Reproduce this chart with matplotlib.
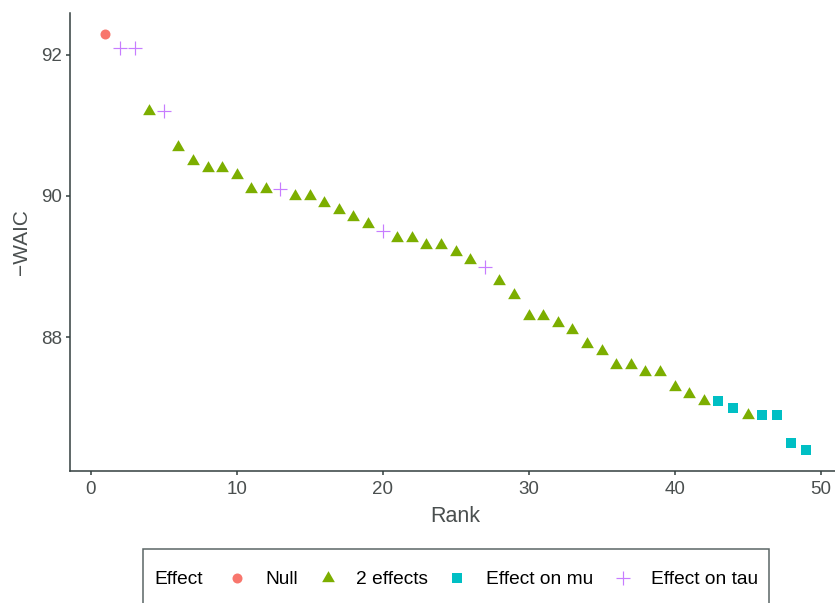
import numpy as np
import matplotlib
matplotlib.use("Agg")
import matplotlib.pyplot as plt
from matplotlib.offsetbox import DrawingArea, HPacker

plt.rcParams['font.family'] = ['Liberation Sans', 'DejaVu Sans']

# Model ranking by -WAIC, split by which effect the model contains
null_rank = [1]
null_waic = [92.3]

two_rank = [4, 6, 7, 8, 9, 10, 11, 12, 14, 15, 16, 17, 18, 19, 21, 22, 23, 24,
            25, 26, 28, 29, 30, 31, 32, 33, 34, 35, 36, 37, 38, 39, 40, 41, 42, 45]
two_waic = [91.2, 90.7, 90.5, 90.4, 90.4, 90.3, 90.1, 90.1, 90.0, 90.0, 89.9,
            89.8, 89.7, 89.6, 89.4, 89.4, 89.3, 89.3, 89.2, 89.1, 88.8, 88.6,
            88.3, 88.3, 88.2, 88.1, 87.9, 87.8, 87.6, 87.6, 87.5, 87.5, 87.3,
            87.2, 87.1, 86.9]

mu_rank = [43, 44, 46, 47, 48, 49]
mu_waic = [87.1, 87.0, 86.9, 86.9, 86.5, 86.4]

tau_rank = [2, 3, 5, 13, 20, 27]
tau_waic = [92.1, 92.1, 91.2, 90.1, 89.5, 89.0]

x_ticks = [0, 10, 20, 30, 40, 50]
y_ticks = [88, 90, 92]

axis_col = '#333f3f'
text_col = '#4a4f4f'

# equilateral triangle like R's pch 17
tri = [(0, 1), (-0.866, -0.5), (0.866, -0.5)]

fig = plt.figure(figsize=(8.35, 6.03), dpi=100)
W, H = 835, 603
left, right, top, bottom = 70.3, 841, 12.7, 471
ax = fig.add_axes([left / W, 1 - bottom / H, (right - left) / W, (bottom - top) / H])

ax.plot(null_rank, null_waic, 'o', color='#F8766D', ms=7.2, mew=0, label='Null')
ax.plot(two_rank, two_waic, linestyle='none', marker=tri, color='#7CAE00',
        ms=10.6, mew=0, label='2 effects')
ax.plot(mu_rank, mu_waic, 's', color='#00BFC4', ms=7.0, mew=0, label='Effect on mu')
ax.plot(tau_rank, tau_waic, '+', color='#C77CFF', ms=9.4, mew=0.85, label='Effect on tau')

ax.set_xlim(-1.4, 51.4)
ax.set_ylim(86.105, 92.595)
ax.set_xticks(x_ticks)
ax.set_yticks(y_ticks)

for s in ['top', 'right']:
    ax.spines[s].set_visible(False)
for s in ['left', 'bottom']:
    ax.spines[s].set_color(axis_col)
    ax.spines[s].set_linewidth(1.1)
ax.tick_params(length=2.7, width=1.1, color=axis_col, labelsize=13.5,
               labelcolor=text_col)
ax.tick_params(axis='x', pad=4.4)
ax.tick_params(axis='y', pad=3.4)

ax.set_xlabel('Rank', fontsize=15.5, color=text_col, va='baseline')
ax.xaxis.set_label_coords(0.5, (H - 521.7 - (H - bottom)) / (bottom - top))
ax.set_ylabel('\u2212WAIC', fontsize=15.0, color=text_col, va='center')
ax.yaxis.set_label_coords((21 - left) / (right - left), 0.5)

leg = fig.legend(loc='upper center', bbox_to_anchor=(456 / W, 1 - 549.3 / H),
                 ncol=4, title='Effect', fontsize=13.8, title_fontsize=13.8,
                 frameon=True, fancybox=False, edgecolor=axis_col,
                 borderpad=0.6, handlelength=1.0, handletextpad=0.97,
                 columnspacing=1.05, borderaxespad=0)
leg.get_frame().set_linewidth(1.1)

# put the legend title on the same line as the keys, as ggplot does,
# and give the box the extra height ggplot uses
box = leg.get_children()[0]
title_box, hpack = box.get_children()
title_row = HPacker(children=[title_box, DrawingArea(3.4, 0)], pad=0, sep=0,
                    align='baseline')
hpack._children = [title_row] + hpack.get_children()
box._children = [DrawingArea(0, 7.3), hpack, DrawingArea(0, 7)]
box.sep = 0

fig.savefig('out.png', dpi=100)
